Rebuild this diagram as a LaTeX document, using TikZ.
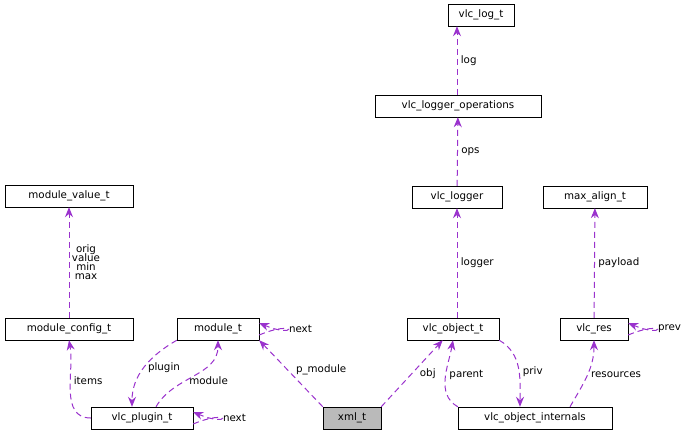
\documentclass[tikz,border=0pt]{standalone}
\usepackage{fontspec}
\setmainfont{DejaVu Sans}
\usetikzlibrary{arrows.meta}
\definecolor{edgecol}{HTML}{9A32CD}
\tikzset{
  box/.style={draw=black,fill=white,minimum height=22pt,inner xsep=2pt,font=\fontsize{10.3}{12}\selectfont},
  dep/.style={color=edgecol,line width=1pt,dash pattern=on 6pt off 4pt,-{Stealth[length=10pt,width=8pt]}},
  lbl/.style={font=\fontsize{10.3}{12}\selectfont,text=black,align=center}
}
\begin{document}
\begin{tikzpicture}[x=1pt,y=-1pt]
\useasboundingbox (0,0) rectangle (692,439);
% nodes
\node[box,minimum width=66pt] (log) at (481,15) {vlc\_log\_t};
\node[box,minimum width=166pt] (ops) at (458,106) {vlc\_logger\_operations};
\node[box,minimum width=90pt] (logger) at (457,197) {vlc\_logger};
\node[box,minimum width=128pt] (mvalue) at (69,196) {module\_value\_t};
\node[box,minimum width=104pt] (align) at (595,197) {max\_align\_t};
\node[box,minimum width=128pt] (mconfig) at (69,329) {module\_config\_t};
\node[box,minimum width=82pt] (module) at (218,329) {module\_t};
\node[box,minimum width=92pt] (object) at (453,329) {vlc\_object\_t};
\node[box,minimum width=68pt] (res) at (594,329) {vlc\_res};
\node[box,minimum width=102pt] (plugin) at (142,418) {vlc\_plugin\_t};
\node[box,minimum width=58pt,fill=black!27] (xml) at (352,418) {xml\_t};
\node[box,minimum width=154pt] (internals) at (535,418) {vlc\_object\_internals};
% straight edges
\draw[dep] (ops.north -| 457,0) -- node[lbl,right] {log} (log.south -| 457,0);
\draw[dep] (logger) -- node[lbl,right] {ops} (ops);
\draw[dep] (object.north -| 457,0) -- node[lbl,right] {logger} (logger);
\draw[dep] (mconfig) -- (mvalue);
\node[lbl,inner sep=0pt] (vlist) at (86,262) {orig\\[-3pt]value\\[-3pt]min\\[-3pt]max};
\draw[dep] (res) -- node[lbl,right] {payload} (align);
\draw[dep] (xml.north west) -- node[lbl,pos=0.45,above right=-2pt] {p\_module} (module.south east);
\draw[dep] (xml.north east) -- node[lbl,pos=0.6,below right=-2pt] {obj} (object);
% curved edges
\draw[dep] (plugin.west) to[out=180,in=-80] node[lbl,right,pos=0.6] {items} (mconfig.south);
\draw[dep] (module.south west) to[out=-150,in=90] node[lbl,right,pos=0.5] {plugin} ([xshift=-10pt]plugin.north);
\draw[dep] ([xshift=14pt]plugin.north) to[out=60,in=-90] node[lbl,right,pos=0.4] {module} (module.south);
\draw[dep] (internals.north west) to[out=150,in=-100] node[lbl,right,pos=0.55] {parent} (object.south);
\draw[dep] (object.south east) to[out=-30,in=90] node[lbl,right,pos=0.55] {priv} ([xshift=-15pt]internals.north);
\draw[dep] ([xshift=35pt]internals.north) to[out=60,in=-90] node[lbl,right,pos=0.5] {resources} (res.south);
% self loops
\foreach \n/\t in {module/next,plugin/next,res/prev}
  \draw[dep] ([yshift=-6pt]\n.east) .. controls ++(38,-16) and ++(38,16) .. ([yshift=6pt]\n.east) node[lbl,right,xshift=26pt,yshift=-6pt] {\t};
\end{tikzpicture}
\end{document}
